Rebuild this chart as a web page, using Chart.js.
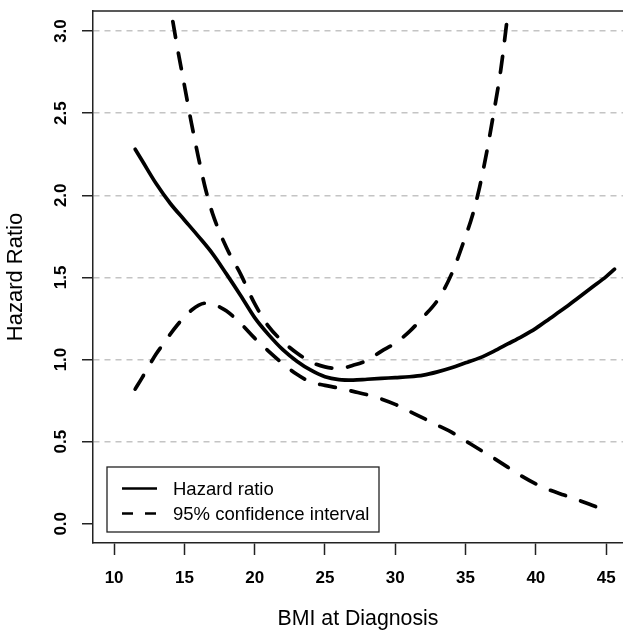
<!DOCTYPE html>
<html>
<head>
<meta charset="utf-8">
<script src="https://cdn.jsdelivr.net/npm/chart.js@4.4.1/dist/chart.umd.min.js"></script>
<style>
  html, body { margin: 0; padding: 0; background: #fff; overflow: hidden; }
  #wrap { width: 623px; height: 632px; }
</style>
</head>
<body>
<div id="wrap"><canvas id="myChart"></canvas></div>
<script>
// values
const bmiHr = [11.5, 12, 13, 14, 15, 16, 17, 18, 19, 20, 21, 22, 23, 24, 25, 26, 27, 28, 29, 30,
  31, 32, 33, 34, 35, 36, 37, 38, 39, 40, 41, 42, 43, 44, 45, 45.6];
const hazardRatio = [2.28, 2.21, 2.07, 1.95, 1.85, 1.75, 1.645, 1.52, 1.39, 1.255, 1.15, 1.06, 0.99, 0.935, 0.895, 0.878, 0.875, 0.88, 0.885, 0.89,
  0.895, 0.905, 0.925, 0.95, 0.98, 1.01, 1.05, 1.095, 1.14, 1.19, 1.25, 1.31, 1.375, 1.44, 1.505, 1.55];

const bmiUpper = [11.5, 12.5, 13.5, 14, 14.5, 15, 15.5, 16, 16.5, 17, 18, 19, 20, 21, 22, 23, 24, 25, 26, 27,
  28, 29, 30, 31, 32, 33, 34, 35, 35.5, 36, 36.5, 37, 37.5, 38, 38.5, 39];
const ciUpper = [4.6, 4.0, 3.42, 3.15, 2.9, 2.67, 2.44, 2.23, 2.04, 1.89, 1.68, 1.52, 1.34, 1.2, 1.11, 1.04, 0.985, 0.955, 0.945, 0.965,
  0.995, 1.05, 1.1, 1.17, 1.26, 1.36, 1.52, 1.75, 1.88, 2.05, 2.26, 2.5, 2.76, 3.1, 3.45, 3.85];

const bmiLower = [11.5, 12, 12.5, 13, 13.5, 14, 14.5, 15, 15.5, 16, 16.5, 17, 17.5, 18, 19, 20, 21, 22, 23, 24,
  25, 26, 27, 28, 29, 30, 31, 32, 33, 34, 35, 36, 37, 38, 39, 40, 41, 42, 43, 44, 44.8];
const ciLower = [0.82, 0.89, 0.965, 1.035, 1.095, 1.155, 1.21, 1.26, 1.3, 1.33, 1.343, 1.34, 1.32, 1.295, 1.22, 1.13, 1.05, 0.975, 0.91, 0.862,
  0.843, 0.826, 0.806, 0.786, 0.76, 0.727, 0.685, 0.643, 0.6, 0.558, 0.505, 0.452, 0.4, 0.345, 0.29, 0.243, 0.205, 0.175, 0.145, 0.113, 0.087];

const xTicks = [10, 15, 20, 25, 30, 35, 40, 45];
const yTicks = [0, 0.5, 1, 1.5, 2, 2.5, 3];

const FONT = "'Liberation Sans', Arial, Helvetica, sans-serif";
const INK = '#222';

const toPoints = (xs, ys) => xs.map((x, i) => ({ x: x, y: ys[i] }));

const curve = (label, data, dash) => ({
  label: label,
  data: data,
  borderColor: '#000',
  borderWidth: 3.7,
  borderDash: dash,
  borderCapStyle: 'round',
  borderJoinStyle: 'round',
  pointRadius: 0,
  cubicInterpolationMode: 'monotone',
  clip: 0
});

// top side of the box and the legend inside the plot
const frameAndLegend = {
  id: 'frameAndLegend',
  afterDraw(chart) {
    const { ctx, chartArea } = chart;
    ctx.save();
    ctx.strokeStyle = INK;
    ctx.lineWidth = 1.5;
    ctx.beginPath();
    ctx.moveTo(chartArea.left, chartArea.top);
    ctx.lineTo(chartArea.right, chartArea.top);
    ctx.stroke();

    const bx = chartArea.left + 14, by = chartArea.bottom - 76, bw = 272, bh = 65;
    ctx.fillStyle = '#fff';
    ctx.fillRect(bx, by, bw, bh);
    ctx.lineWidth = 1.3;
    ctx.strokeRect(bx, by, bw, bh);

    const items = chart.data.datasets.slice(0, 2);
    items.forEach((ds, i) => {
      const y = by + 21.5 + i * 25;
      ctx.strokeStyle = '#000';
      ctx.lineWidth = 2.7;
      ctx.setLineDash(ds.borderDash && ds.borderDash.length ? [11, 12] : []);
      ctx.beginPath();
      ctx.moveTo(bx + 15, y);
      ctx.lineTo(bx + 50, y);
      ctx.stroke();
      ctx.setLineDash([]);
      ctx.fillStyle = '#000';
      ctx.font = '18.5px ' + FONT;
      ctx.textBaseline = 'middle';
      ctx.textAlign = 'left';
      ctx.fillText(ds.label, bx + 66, y + 1);
    });
    ctx.restore();
  }
};

const ctx = document.getElementById('myChart').getContext('2d');
new Chart(ctx, {
  type: 'line',
  data: {
    datasets: [
      curve('Hazard ratio', toPoints(bmiHr, hazardRatio), []),
      curve('95% confidence interval', toPoints(bmiUpper, ciUpper), [16, 16]),
      curve('95% confidence interval', toPoints(bmiLower, ciLower), [16, 16])
    ]
  },
  options: {
    responsive: true,
    maintainAspectRatio: false,
    animation: false,
    layout: { padding: { top: 11, right: 0, bottom: 0, left: 0 } },
    plugins: {
      legend: { display: false },
      tooltip: { enabled: false }
    },
    scales: {
      x: {
        type: 'linear',
        min: 8.5,
        max: 46.2,
        afterBuildTicks: s => { s.ticks = xTicks.map(v => ({ value: v })); },
        afterFit: s => {
          s.height = 89;
          s.paddingLeft = s.paddingRight = s.paddingTop = s.paddingBottom = 0;
        },
        grid: { drawOnChartArea: false, tickLength: 12, tickColor: INK, tickWidth: 1.5 },
        border: { color: INK, width: 1.5 },
        ticks: {
          autoSkip: false,
          maxRotation: 0,
          padding: 13,
          color: '#000',
          font: { family: FONT, size: 17, weight: 'bold' }
        },
        title: {
          display: true,
          text: 'BMI at Diagnosis',
          color: '#000',
          font: { family: FONT, size: 21.3 },
          padding: { top: 0, bottom: 0 }
        }
      },
      y: {
        min: -0.117,
        max: 3.122,
        afterBuildTicks: s => { s.ticks = yTicks.map(v => ({ value: v })); },
        afterFit: s => {
          s.width = 93;
          s.paddingLeft = s.paddingRight = s.paddingTop = s.paddingBottom = 0;
        },
        grid: {
          color: c => (c.tick && c.tick.value === 0 ? 'rgba(0,0,0,0)' : '#c4c4c4'),
          lineWidth: 1.5,
          tickLength: 11,
          tickColor: INK,
          tickWidth: 1.5
        },
        border: { color: INK, width: 1.5, dash: [6, 5] },
        ticks: {
          autoSkip: false,
          minRotation: 90,
          maxRotation: 90,
          crossAlign: 'center',
          padding: 8.5,
          color: '#000',
          font: { family: FONT, size: 17, weight: 'bold' },
          callback: v => v.toFixed(1)
        },
        title: {
          display: true,
          text: 'Hazard Ratio',
          color: '#000',
          font: { family: FONT, size: 22 },
          padding: { top: 3, bottom: 0 }
        }
      }
    }
  },
  plugins: [frameAndLegend]
});
</script>
</body>
</html>
